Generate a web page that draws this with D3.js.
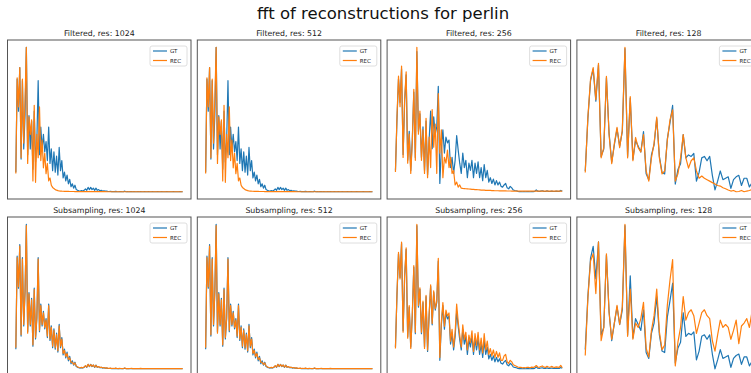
<!DOCTYPE html>
<meta charset="utf-8">
<style>
body { margin: 0; background: #fff; }
text { font-family: "DejaVu Sans", sans-serif; }
.frame { fill: none; stroke: #555; stroke-width: 1px; }
.line { fill: none; stroke-width: 1.2px; stroke-linejoin: round; }
</style>
<svg width="751" height="373"></svg>
<script src="https://cdn.jsdelivr.net/npm/d3@7"></script>
<script>

// fft magnitudes (normalised)
var gtFine = [14, 78, 56, 86, 23, 77, 30, 53, 100, 26, 53, 30, 49, 16, 56, 21, 35, 77, 26, 45,
  30, 40, 28, 35, 22, 45, 20, 30, 15, 28, 14, 25, 12, 31, 15, 22, 10, 14, 8, 12,
  6, 9, 4, 6, 3, 5, 2, 1.5, 1.2, 1, 1.3, 1, 1.5, 2.5, 1.5, 3.5, 2, 3.5, 2, 3,
  1.5, 3, 1.5, 2, 1.2, 1.5, 1, 1.2, 0.9, 1, 0.8, 0.7, 0.8, 0.6, 0.7, 0.6, 0.8, 0.6, 0.5, 0.7,
  0.6, 0.5, 0.6, 0.9, 0.5, 0.6, 0.5, 0.6, 0.7, 0.5, 0.6, 0.5, 0.5, 0.6, 0.5, 0.7, 0.5, 0.5, 0.6, 0.5,
  0.5, 0.6, 0.5, 0.5, 0.6, 0.5, 0.5, 0.5, 0.6, 0.5, 0.5, 0.6, 0.5, 0.5, 0.5, 0.6, 0.5, 0.5, 0.5, 0.5,
  0.6, 0.5, 0.5, 0.5, 0.5, 0.6, 0.5, 0.5];

var recFilteredFine = [13, 79, 59, 86, 24, 78, 34, 64, 100, 20, 52, 40, 50, 8, 60, 7, 40, 24, 59, 22,
  36, 17, 27, 13, 20, 8, 10, 5, 3.5, 2.8, 2, 1.6, 1.3, 1.1, 1, 0.9, 0.85, 0.8, 0.8, 0.75,
  0.75, 0.7, 0.7, 0.7, 0.68, 0.66, 0.65, 0.64, 0.63, 0.62, 0.61, 0.6, 0.6, 0.59, 0.58, 0.58, 0.57, 0.57, 0.56, 0.56,
  0.56, 0.55, 0.55, 0.55, 0.55, 0.54, 0.54, 0.54, 0.54, 0.53, 0.53, 0.53, 0.53, 0.53, 0.52, 0.52, 0.52, 0.52, 0.52, 0.52,
  0.52, 0.51, 0.51, 0.51, 0.51, 0.51, 0.51, 0.51, 0.51, 0.5, 0.5, 0.5, 0.5, 0.5, 0.5, 0.5, 0.5, 0.5, 0.5, 0.5,
  0.5, 0.5, 0.5, 0.5, 0.5, 0.5, 0.5, 0.5, 0.5, 0.5, 0.5, 0.5, 0.5, 0.5, 0.5, 0.5, 0.5, 0.5, 0.5, 0.5,
  0.5, 0.5, 0.5, 0.5, 0.5, 0.5, 0.5, 0.5];

var recSubsampledFine = [15, 77, 57, 85, 24, 76, 31, 54, 99, 25, 52, 31, 48, 17, 55, 22, 36, 76, 27, 44,
  31, 39, 29, 34, 23, 44, 21, 29, 16, 27, 15, 24, 13, 30, 16, 21, 11, 13, 9, 11,
  7, 8, 5, 5, 3.5, 4.5, 2.5, 1.8, 1.4, 1.2, 1.5, 1.2, 1.7, 2.7, 1.7, 3.6, 2.2, 3.4, 2.2, 3.1,
  1.7, 2.9, 1.7, 2, 1.4, 1.6, 1.2, 1.3, 1, 1.1, 0.9, 0.8, 0.9, 0.7, 0.8, 0.7, 0.9, 0.7, 0.6, 0.8,
  0.7, 0.6, 0.7, 1, 0.6, 0.7, 0.6, 0.7, 0.8, 0.6, 0.7, 0.6, 0.6, 0.7, 0.6, 0.8, 0.6, 0.6, 0.7, 0.6,
  0.6, 0.7, 0.6, 0.6, 0.7, 0.6, 0.6, 0.6, 0.7, 0.6, 0.6, 0.7, 0.6, 0.6, 0.6, 0.7, 0.6, 0.6, 0.6, 0.6,
  0.7, 0.6, 0.6, 0.6, 0.6, 0.7, 0.6, 0.6];

var gtMid = [15, 50, 78, 62, 85, 26, 62, 81, 22, 42, 15, 36, 69, 24, 97, 42, 54, 24, 45, 15,
  49, 12, 36, 56, 30, 52, 40, 45, 73, 6, 30, 43, 27, 38, 34, 36, 17, 24, 13, 22,
  39, 29, 20, 13, 27, 17, 22, 10, 20, 15, 22, 10, 20, 13, 21, 10, 17, 8, 19, 10,
  15, 7, 10, 6, 9, 5, 8, 5, 7, 4, 3.5, 5, 6, 3, 2.3, 4, 3, 1.5, 1.2, 1,
  0.6, 0.4, 0.4, 0.3, 0.4, 0.3, 0.5, 0.4, 0.3, 0.5, 0.4, 0.6, 1.6, 0.7, 0.5, 0.8, 1, 0.6, 0.5, 0.9,
  0.6, 0.5, 0.8, 0.6, 0.5, 0.7, 0.6, 0.5, 1.2, 0.6];

var recFilteredMid = [14, 52, 80, 59, 87, 24, 64, 83, 20, 40, 13, 34, 71, 22, 100, 40, 56, 22, 43, 13,
  51, 10, 38, 17, 57, 31, 47, 13, 68, 27, 43, 10, 24, 20, 29, 17, 24, 13, 15, 5,
  7, 3.5, 5, 2.8, 2.6, 2.5, 2.4, 2.3, 2.2, 2.1, 2, 1.9, 1.8, 1.8, 1.7, 1.6, 1.5, 1.5, 1.4, 1.3,
  1.3, 1.2, 1.2, 1.1, 1.1, 1, 1, 1, 0.95, 0.95, 0.9, 0.9, 0.9, 0.85, 0.85, 0.85, 0.8, 0.8, 0.8, 0.8,
  0.8, 0.75, 0.75, 0.75, 0.75, 0.75, 0.7, 0.7, 0.7, 0.7, 0.7, 0.7, 0.7, 0.7, 0.7, 0.7, 0.7, 0.7, 0.7, 0.7,
  0.7, 0.7, 0.7, 0.7, 0.7, 0.7, 0.7, 0.7, 0.7, 0.7];

var recSubsampledMid = [14, 51, 79, 61, 86, 25, 63, 82, 21, 43, 14, 37, 70, 25, 98, 43, 55, 25, 46, 14,
  50, 13, 37, 57, 31, 53, 41, 46, 75, 8, 32, 45, 29, 40, 36, 38, 19, 27, 15, 25,
  44, 32, 23, 15, 30, 20, 25, 13, 23, 18, 26, 12, 24, 16, 25, 13, 21, 11, 24, 13,
  19, 10, 14, 9, 13, 8, 12, 8, 11, 6, 6, 9, 10, 5, 4, 6, 5, 3, 2.5, 2,
  1.5, 1.3, 1.2, 1, 1.1, 1, 1.3, 1.2, 1, 1.4, 1.2, 1.6, 2.5, 1.5, 1.3, 1.8, 2.2, 1.4, 1.2, 2,
  1.5, 1.3, 1.9, 1.4, 1.2, 1.6, 1.4, 1.2, 2.6, 1];

var gtCoarse = [15, 51, 77, 85, 63, 88, 25, 30, 79, 41, 21, 33, 44, 32, 42, 99, 25, 65, 23, 36,
  32, 28, 42, 13, 9, 26, 33, 51, 25, 14, 13, 37, 48, 60, 6, 16, 20, 40, 24, 26,
  25, 27, 8, 14, 24, 25, 22, 25, 12, 2, 8, 15, 9, 10, 11, 3, 9, 11, 12, 5,
  10, 10, 4, 7];

var recFilteredCoarse = [14, 52, 78, 86, 64, 89, 24, 31, 80, 40, 20, 34, 45, 31, 43, 100, 24, 66, 22, 38,
  31, 28, 40, 15, 8, 24, 34, 52, 24, 13, 15, 36, 50, 57, 8, 13, 24, 40, 24, 17,
  22, 24, 15, 10, 11.5, 10, 9, 8, 7, 6, 5, 4.6, 3.5, 2.8, 1.9, 1.2, 1.6, 0.7, 0.9, 1.6,
  0.7, 1.2, 1.6, 2.3];

var recSubsampledCoarse = [11, 50, 75, 80, 53, 88, 21, 30, 80, 40, 22, 33, 45, 32, 44, 100, 24, 56, 22, 33,
  30, 36, 47, 16, 10, 28, 38, 56, 27, 15, 18, 45, 62, 76, 4, 20, 30, 51, 35, 40,
  42, 38, 26, 33, 40, 42, 38, 36, 21, 14, 25, 35, 30, 32, 30, 22, 28, 35, 19, 31,
  33, 36, 30, 41];

var methods = ["Filtered", "Subsampling"];
var resolutions = [1024, 512, 256, 128];
var seriesNames = ["GT", "REC"];
var colors = ["#1f77b4", "#ff7f0e"];

var panels = [
  [[gtFine, recFilteredFine], [gtFine, recFilteredFine], [gtMid, recFilteredMid], [gtCoarse, recFilteredCoarse]],
  [[gtFine, recSubsampledFine], [gtFine, recSubsampledFine], [gtMid, recSubsampledMid], [gtCoarse, recSubsampledCoarse]]
];

var svg = d3.select("svg");

var boxW = 183.5, boxH = 159,
    boxLeft = 7.5, boxStep = 189.8,
    rowTop = [40, 217];

svg.append("text")
    .attr("x", 383)
    .attr("y", 19)
    .attr("text-anchor", "middle")
    .style("font-size", "16.5px")
    .style("fill", "#111")
    .text("fft of reconstructions for perlin");

methods.forEach(function(method, r) {
  resolutions.forEach(function(res, c) {
    var x0 = boxLeft + c * boxStep,
        y0 = rowTop[r],
        series = panels[r][c],
        n = series[0].length;

    var lo = d3.min(series, function(s) { return d3.min(s); }),
        hi = d3.max(series, function(s) { return d3.max(s); }),
        pad = 0.05 * (hi - lo);

    var x = d3.scaleLinear()
        .domain([-0.05 * (n - 1), 1.05 * (n - 1)])
        .range([x0, x0 + boxW]);
    var y = d3.scaleLinear()
        .domain([lo - pad, hi + pad])
        .range([y0 + boxH, y0]);

    var line = d3.line()
        .x(function(d, i) { return x(i); })
        .y(function(d) { return y(d); });

    var g = svg.append("g");

    g.selectAll(".line")
      .data(series)
      .enter().append("path")
        .attr("class", "line")
        .attr("d", line)
        .style("stroke", function(d, i) { return colors[i]; });

    g.append("rect")
        .attr("class", "frame")
        .attr("x", x0)
        .attr("y", y0)
        .attr("width", boxW)
        .attr("height", boxH);

    g.append("text")
        .attr("x", x0 + boxW / 2)
        .attr("y", y0 - 4)
        .attr("text-anchor", "middle")
        .style("font-size", "7.8px")
        .style("fill", "#222")
        .text(method + ", res: " + res);

    // legend, upper right
    var lx = x0 + boxW - 41, ly = y0 + 6;
    var legend = g.append("g").attr("transform", "translate(" + lx + "," + ly + ")");
    legend.append("rect")
        .attr("width", 37)
        .attr("height", 20)
        .attr("rx", 2)
        .style("fill", "#fff")
        .style("fill-opacity", 0.8)
        .style("stroke", "#d6d6d6")
        .style("stroke-width", 0.8);
    var item = legend.selectAll(".item")
      .data(seriesNames)
      .enter().append("g")
        .attr("transform", function(d, i) { return "translate(0," + (5 + i * 9.5) + ")"; });
    item.append("line")
        .attr("x1", 3).attr("x2", 17)
        .style("stroke", function(d, i) { return colors[i]; })
        .style("stroke-width", 1.2);
    item.append("text")
        .attr("x", 20)
        .attr("y", 2)
        .style("font-size", "5.5px")
        .style("fill", "#222")
        .text(function(d) { return d; });
  });
});

</script>
